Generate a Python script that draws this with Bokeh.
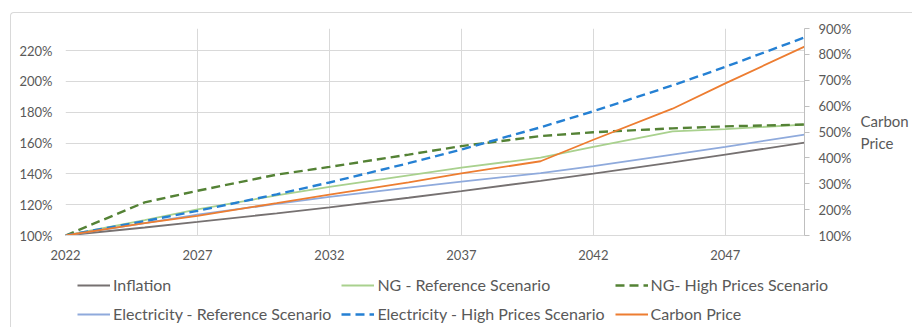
from bokeh.plotting import figure
from bokeh.layouts import column
from bokeh.models import (Range1d, LinearAxis, FixedTicker, PrintfTickFormatter,
                          Legend, LegendItem, InlineStyleSheet)
from bokeh.embed import file_html
from bokeh.resources import INLINE

years = [2022, 2025, 2027, 2030, 2032, 2035, 2037, 2040, 2042, 2045, 2047, 2050]
inflation = [100, 105.2, 108.8, 114.4, 118.3, 124.5, 128.8, 135.5, 140.1, 147.4, 152.5, 160.2]
ng_ref = [100, 110, 117, 126, 131.5, 139, 144, 150.5, 157.5, 167.5, 169, 172]
ng_high = [100, 121.5, 129, 139.5, 144.5, 152.5, 158, 164.5, 167, 169.5, 170.8, 172]
elec_ref = [100, 108, 113.5, 120.5, 125, 131, 135, 140.5, 145, 152.5, 157.5, 165.5]
elec_high = [100, 109.3, 116, 126.7, 134.4, 146.9, 155.8, 170.2, 180.6, 197.4, 209.4, 228.5]
carbon = [100, 148, 176, 225, 258, 305, 340, 387, 470, 590, 688, 830]

x_ticks = [2022, 2027, 2032, 2037, 2042, 2047]
left_ticks = [100, 120, 140, 160, 180, 200, 220]
right_ticks = [100, 200, 300, 400, 500, 600, 700, 800, 900]

series = [
    ("Inflation", inflation, "#767171", 1.8, "solid", "default"),
    ("NG - Reference Scenario", ng_ref, "#A9D18E", 1.8, "solid", "default"),
    ("NG- High Prices Scenario", ng_high, "#548235", 2.4, "9 5", "default"),
    ("Electricity - Reference Scenario", elec_ref, "#8FAADC", 1.8, "solid", "default"),
    ("Electricity - High Prices Scenario", elec_high, "#2580D3", 2.4, "9 5", "default"),
    ("Carbon Price", carbon, "#ED7D31", 1.8, "solid", "carbon"),
]

FONT = "Lato"
TXT = "#595959"
GRID = "#D9D9D9"

p = figure(width=912, height=270, output_backend="svg", toolbar_location=None,
           x_range=Range1d(2022, 2050), y_range=Range1d(100, 234.3),
           min_border_left=65, min_border_right=108, min_border_top=28, min_border_bottom=35)
p.extra_y_ranges = {"carbon": Range1d(100, 900)}
p.outline_line_color = None

# axes
p.xaxis.ticker = FixedTicker(ticks=x_ticks)
p.yaxis.ticker = FixedTicker(ticks=left_ticks)
p.yaxis.formatter = PrintfTickFormatter(format="%d%%")
for ax in (p.xaxis[0], p.yaxis[0]):
    ax.major_tick_line_color = None
    ax.major_tick_out = 0
    ax.major_tick_in = 0
    ax.minor_tick_line_color = None
    ax.minor_tick_out = 0
    ax.major_label_text_font = FONT
    ax.major_label_text_font_size = "13px"
    ax.major_label_text_color = TXT
p.yaxis.axis_line_color = None
p.yaxis.major_label_standoff = 13
p.xaxis.axis_line_color = GRID
p.xaxis.major_label_standoff = 14

ra = LinearAxis(y_range_name="carbon", ticker=FixedTicker(ticks=right_ticks),
                formatter=PrintfTickFormatter(format="%d%%"))
ra.axis_line_color = "#BFBFBF"
ra.major_tick_line_color = "#BFBFBF"
ra.major_tick_out = 5
ra.major_tick_in = 0
ra.minor_tick_line_color = None
ra.minor_tick_out = 0
ra.major_label_standoff = 9
ra.major_label_text_font = FONT
ra.major_label_text_font_size = "13px"
ra.major_label_text_color = TXT
ra.axis_label = "Carbon\nPrice"
ra.axis_label_text_font = FONT
ra.axis_label_text_font_size = "15px"
ra.axis_label_text_font_style = "normal"
ra.axis_label_text_color = TXT
ra.axis_label_text_align = "center"
ra.axis_label_standoff = 6
if "axis_label_orientation" in LinearAxis.properties():
    ra.axis_label_orientation = "horizontal"
p.add_layout(ra, "right")

p.xgrid.grid_line_color = GRID
p.ygrid.grid_line_color = GRID
p.xgrid.ticker = FixedTicker(ticks=x_ticks)
p.ygrid.ticker = FixedTicker(ticks=left_ticks)

for name, vals, color, lw, dash, rng in series:
    p.line(years, vals, line_color=color, line_width=lw, line_dash=dash, y_range_name=rng)

# legend strip (same series drawn outside its visible range, used only for legend glyphs)
lf = figure(width=912, height=57, output_backend="svg", toolbar_location=None,
            x_range=Range1d(0, 1), y_range=Range1d(0, 1),
            min_border_left=0, min_border_right=0, min_border_top=0, min_border_bottom=0)
lf.axis.visible = False
lf.grid.visible = False
lf.outline_line_color = None
for fig in (p, lf):
    if "frame_align" in fig.properties():
        fig.frame_align = False
items = []
for name, vals, color, lw, dash, rng in series:
    r = lf.line(years, vals, line_color=color, line_width=lw, line_dash=dash)
    items.append(LegendItem(label=name, renderers=[r]))
lg = Legend(items=items, location=(77, 4), orientation="horizontal", ncols=3,
            glyph_width=33, glyph_height=18, label_standoff=3, spacing=10,
            padding=0, margin=0, border_line_color=None, background_fill_alpha=0,
            label_text_font=FONT, label_text_font_size="16px", label_text_color=TXT,
            label_height=18)
lf.add_layout(lg, "center")

# light chart-area border (only its top and left edges fall inside the picture)
border_css = InlineStyleSheet(css="""
:host::after {
  content: "";
  position: absolute;
  left: 10px; top: 12px;
  width: 902px; height: 315px;
  box-sizing: border-box;
  border-left: 1px solid #D9D9D9;
  border-top: 1px solid #D9D9D9;
  border-right: none;
  border-bottom: none;
  border-top-left-radius: 4px;
  pointer-events: none;
}
""")
layout = column(p, lf, spacing=0, stylesheets=[border_css])
open("out.html", "w").write(file_html(layout, INLINE))
